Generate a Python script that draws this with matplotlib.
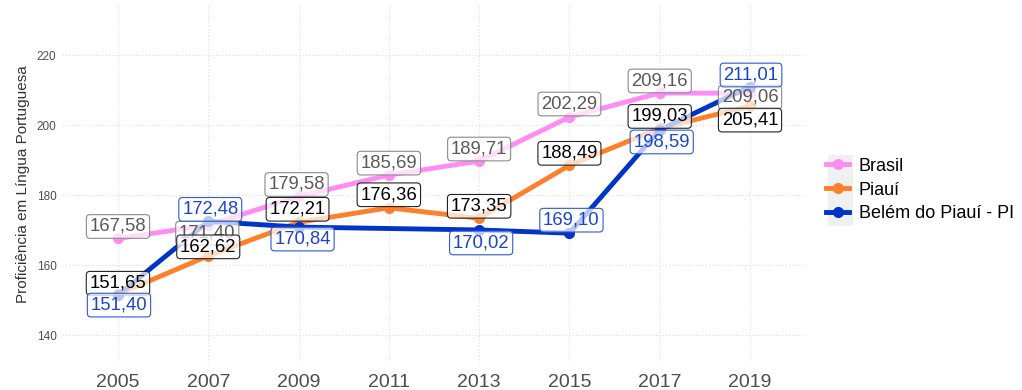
import matplotlib
matplotlib.use("Agg")
import matplotlib.pyplot as plt
from matplotlib.lines import Line2D
from matplotlib.patches import Rectangle

plt.rcParams['font.family'] = ['Liberation Sans', 'DejaVu Sans']

# Proficiência média em Língua Portuguesa (5º ano)
years = [2005, 2007, 2009, 2011, 2013, 2015, 2017, 2019]
brasil = [167.58, 171.40, 179.58, 185.69, 189.71, 202.29, 209.16, 209.06]
piaui = [151.65, 162.62, 172.21, 176.36, 173.35, 188.49, 199.03, 205.41]
belem_years = [2005, 2007, 2009, 2013, 2015, 2017, 2019]
belem = [151.40, 172.48, 170.84, 170.02, 169.10, 198.59, 211.01]

series_names = ["Brasil", "Piauí", "Belém do Piauí - PI"]
y_ticks = [140, 160, 180, 200, 220]

# label styling per series: line colour, text colour, box edge colour,
# and vertical label offsets (pixels) to keep the boxes apart
styles = {
    "Brasil": dict(line="#FF8BF5", text="#595959", edge="#8a8a8a",
                   dy=[12, -8, 12, 12, 12, 13, 12, -4]),
    "Piauí": dict(line="#FF7F2A", text="#000000", edge="#222222",
                  dy=[11, 9, 13, 13, 12, 12, 12, -14]),
    "Belém do Piauí - PI": dict(line="#0033C8", text="#1a44cc", edge="#2c5ad8",
                                dy=[-10, 12, -12, -13, 13, -12, 11.5]),
}
dx = {"Brasil": [0, -1, -2, 0, 0, 0, 0, 0],
      "Piauí": [0, 0, -1, 0, 0, 0, 0, 0],
      "Belém do Piauí - PI": [1, 2, 4, 2, 2, 2, 1]}

data = [(years, brasil), (years, piaui), (belem_years, belem)]

fig = plt.figure(figsize=(10.22, 3.90), dpi=100)
ax = fig.add_axes([62 / 1022, 1 - 363 / 390, (806 - 62) / 1022, (363 - 5) / 390])

for name, (xs, ys) in zip(series_names, data):
    st = styles[name]
    ax.plot(xs, ys, color=st["line"], lw=3.5, solid_capstyle="butt", zorder=2)
    ax.plot(xs, ys, "o", color=st["line"], ms=7, zorder=3)

for name, (xs, ys) in zip(series_names, data):
    st = styles[name]
    for i, (x, y) in enumerate(zip(xs, ys)):
        ax.annotate(f"{y:.2f}".replace(".", ","), (x, y),
                    xytext=(dx[name][i], st["dy"][i]), textcoords="offset pixels",
                    ha="center", va="center", fontsize=13.3, color=st["text"],
                    zorder=5,
                    bbox=dict(boxstyle="round,pad=0.18,rounding_size=0.2",
                              fc=(1, 1, 1, 0.72), ec=st["edge"], lw=0.8))

ax.set_xlim(2003.76, 2020.24)
ax.set_ylim(132, 234.3)
ax.set_xticks(years)
ax.set_xticklabels([str(y) for y in years], fontsize=14, color="#4d4d4d")
ax.set_yticks(y_ticks)
ax.set_yticklabels([str(v) for v in y_ticks], fontsize=8.5, color="#4d4d4d")
ax.tick_params(length=0, pad=4)
ax.tick_params(axis="x", pad=8)
ax.grid(True, color="#dcdcdc", linestyle=(0, (1, 2)), lw=0.8)
ax.set_axisbelow(True)
for s in ax.spines.values():
    s.set_visible(False)
ax.set_ylabel("Proficiência em Língua Portuguesa", fontsize=11, color="#333333",
              labelpad=5)

# legend with grey key background
fig.patches.append(Rectangle((828 / 1022, 1 - 226 / 390), 25 / 1022, 71 / 390,
                             transform=fig.transFigure, fc="#f0f0f0", ec="none",
                             zorder=0))
handles = [Line2D([], [], color=styles[n]["line"], lw=3.5, marker="o", ms=7)
           for n in series_names]
leg = fig.legend(handles, series_names, loc="center left",
                 bbox_to_anchor=(826 / 1022, 1 - 190 / 390), frameon=False,
                 fontsize=13, handlelength=1.3, handletextpad=0.5,
                 labelspacing=0.38, borderaxespad=0, borderpad=0)

fig.savefig("out.png", dpi=100)
